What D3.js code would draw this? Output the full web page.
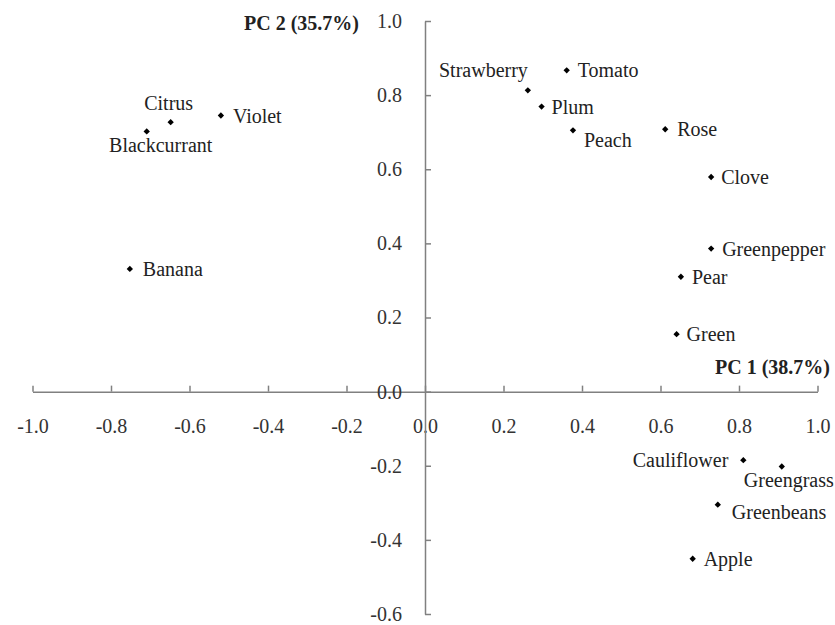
<!DOCTYPE html>
<meta charset="utf-8">
<html>
<script src="https://d3js.org/d3.v7.min.js"></script>
<body style="margin:0;background:#fff;">
<div id="chart"></div>

<script>
    // data
    var names = ["Citrus", "Blackcurrant", "Violet", "Banana", "Strawberry", "Tomato", "Plum", "Peach",
        "Rose", "Clove", "Greenpepper", "Pear", "Green", "Cauliflower", "Greengrass", "Greenbeans", "Apple"];
    var pc1 = [-0.648, -0.709, -0.520, -0.752, 0.262, 0.361, 0.297, 0.377,
        0.612, 0.729, 0.729, 0.652, 0.641, 0.811, 0.909, 0.746, 0.682];
    var pc2 = [0.727, 0.702, 0.745, 0.331, 0.813, 0.867, 0.769, 0.705,
        0.708, 0.579, 0.386, 0.310, 0.155, -0.185, -0.202, -0.305, -0.451];
    var xTicks = [-1.0, -0.8, -0.6, -0.4, -0.2, 0.0, 0.2, 0.4, 0.6, 0.8, 1.0];
    var yTicks = [-0.6, -0.4, -0.2, 0.0, 0.2, 0.4, 0.6, 0.8, 1.0];

    // where each label sits relative to its point
    var place = {
        "Citrus": [-2, -12, "middle"],
        "Blackcurrant": [14, 21, "middle"],
        "Violet": [12, 7, "start"],
        "Banana": [13, 7, "start"],
        "Strawberry": [0, -13, "end"],
        "Tomato": [11, 7, "start"],
        "Plum": [10, 7, "start"],
        "Peach": [11, 17, "start"],
        "Rose": [12, 7, "start"],
        "Clove": [10, 7, "start"],
        "Greenpepper": [11, 7, "start"],
        "Pear": [11, 7, "start"],
        "Green": [10, 7, "start"],
        "Cauliflower": [-15, 7, "end"],
        "Greengrass": [-38, 21, "start"],
        "Greenbeans": [14, 14, "start"],
        "Apple": [11, 7, "start"]
    };

    var serif = "Liberation Serif";
    var axisColor = "#808080";
    var width = 835, height = 625;

    var svg = d3.select("#chart").append("svg")
        .attr("width", width)
        .attr("height", height);

    var x = d3.scaleLinear().domain([-1, 1]).range([32.5, 817.5]);
    var y = d3.scaleLinear().domain([-0.6, 1]).range([614, 21]);

    var fmt = function(d) { return d.toFixed(1); };

    // x axis through y = 0, ticks pointing up, labels below
    var gx = svg.append("g")
        .attr("transform", "translate(0," + y(0) + ")")
        .call(d3.axisBottom(x).tickValues(xTicks).tickFormat(fmt)
            .tickSizeInner(-6).tickSizeOuter(0).tickPadding(27));

    // y axis through x = 0, ticks pointing right
    var gy = svg.append("g")
        .attr("transform", "translate(" + x(0) + ",0)")
        .call(d3.axisLeft(y).tickValues(yTicks).tickFormat(fmt)
            .tickSizeInner(-6).tickSizeOuter(0).tickPadding(23));

    [gx, gy].forEach(function(g) {
        g.attr("font-family", serif).attr("font-size", 20);
        g.select(".domain").attr("stroke", axisColor).attr("stroke-width", 1.5);
        g.selectAll(".tick line").attr("stroke", axisColor).attr("stroke-width", 1.5);
        g.selectAll(".tick text")
            .attr("fill", "#333")
            .attr("font-family", serif)
            .attr("font-size", 20);
    });

    // axis titles
    svg.append("text")
        .attr("text-anchor", "end")
        .attr("x", 359)
        .attr("y", 30)
        .attr("font-family", serif)
        .attr("font-size", 20)
        .attr("font-weight", "bold")
        .attr("fill", "#222")
        .text("PC 2 (35.7%)");

    svg.append("text")
        .attr("text-anchor", "end")
        .attr("x", 830)
        .attr("y", 374)
        .attr("font-family", serif)
        .attr("font-size", 20)
        .attr("font-weight", "bold")
        .attr("fill", "#222")
        .text("PC 1 (38.7%)");

    var data = names.map(function(n, i) { return {name: n, x: pc1[i], y: pc2[i]}; });

    // points
    var marker = d3.symbol().type(d3.symbolSquare).size(20);
    svg.selectAll(".pt")
        .data(data)
        .enter().append("path")
        .attr("class", "pt")
        .attr("d", marker)
        .attr("fill", "#000")
        .attr("transform", function(d) {
            return "translate(" + x(d.x) + "," + y(d.y) + ") rotate(45)";
        });

    // labels
    svg.selectAll(".ptLabel")
        .data(data)
        .enter().append("text")
        .attr("class", "ptLabel")
        .attr("font-family", serif)
        .attr("font-size", 20)
        .attr("fill", "#222")
        .attr("x", function(d) { return x(d.x) + place[d.name][0]; })
        .attr("y", function(d) { return y(d.y) + place[d.name][1]; })
        .attr("text-anchor", function(d) { return place[d.name][2]; })
        .text(function(d) { return d.name; });
</script>
</body>
</html>
